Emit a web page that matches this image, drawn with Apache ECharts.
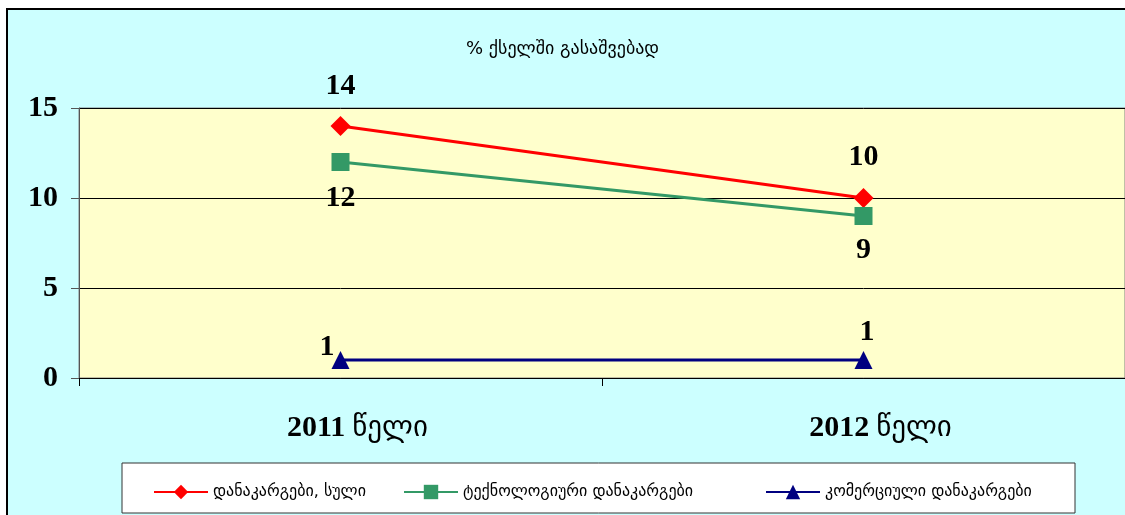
<!DOCTYPE html>
<html>
<head>
<meta charset="utf-8">
<script src="https://cdn.jsdelivr.net/npm/echarts@6/dist/echarts.min.js"></script>
<style>
  html, body { margin: 0; padding: 0; background: #ffffff; }
  #chart { width: 1125px; height: 515px; }
</style>
</head>
<body>
<div id="chart"></div>
<script>
  var titleText = '% ქსელში გასაშვებად';
  var years = ['2011', '2012'];
  var yearWord = 'წელი';
  var seriesNames = ['დანაკარგები, სული', 'ტექნოლოგიური დანაკარგები', 'კომერციული დანაკარგები'];
  var totalLoss = [14, 10];
  var techLoss = [12, 9];
  var commLoss = [1, 1];

  var serif = "'Liberation Serif', 'DejaVu Sans', serif";
  var geo = "'DejaVu Sans', 'Liberation Serif', sans-serif";

  var labelFont = {
    show: true, color: '#000', fontFamily: serif, fontWeight: 'bold', fontSize: 30
  };

  // label placement per point (index -> position)
  function makeData(values, positions) {
    return values.map(function (v, i) {
      return { value: v, label: Object.assign({}, labelFont, positions[i]) };
    });
  }

  var chart = echarts.init(document.getElementById('chart'));
  var option = {
    backgroundColor: '#ffffff',
    animation: false,
    graphic: [
      {
        type: 'rect', z: -10,
        shape: { x: 7, y: 9, width: 1130, height: 520 },
        style: { fill: '#CCFFFF', stroke: '#000', lineWidth: 2 }
      },
      {
        type: 'rect', z: 1,
        shape: { x: 122, y: 463, width: 953, height: 50 },
        style: { fill: '#ffffff', stroke: '#333', lineWidth: 1 }
      }
    ],
    title: {
      text: titleText,
      left: 'center',
      top: 35,
      textStyle: { fontFamily: geo, fontWeight: 'normal', fontSize: 18, color: '#000' }
    },
    grid: {
      left: 79, right: 0, top: 108, height: 270,
      show: true, backgroundColor: '#FFFFCC', borderColor: '#808080', borderWidth: 1
    },
    legend: [0, 1, 2].map(function (i) {
      return {
        data: [seriesNames[i]],
        left: [148, 398, 760][i],
        top: 479,
        z: 5,
        itemWidth: 54, itemHeight: 18,
        itemGap: 4,
        textStyle: { fontFamily: geo, fontSize: 16, color: '#000' }
      };
    }),
    xAxis: {
      type: 'category',
      data: years,
      boundaryGap: true,
      axisLine: { lineStyle: { color: '#000', width: 1 } },
      axisTick: { show: true, length: 8, lineStyle: { color: '#000' } },
      axisLabel: {
        margin: 35,
        padding: [0, 0, 0, 34],
        formatter: function (v) { return '{b|' + v + '}{g|' + yearWord + '}'; },
        rich: {
          b: { fontFamily: serif, fontWeight: 'bold', fontSize: 30, color: '#000' },
          g: { fontFamily: geo, fontWeight: 'normal', fontSize: 29, color: '#000', padding: [0, 0, 0, 7] }
        }
      }
    },
    yAxis: {
      type: 'value',
      min: 0, max: 15, interval: 5,
      axisLine: { show: true, lineStyle: { color: '#555', width: 1 } },
      axisTick: { show: true, length: 8, lineStyle: { color: '#555' } },
      splitLine: { lineStyle: { color: '#000', width: 1 } },
      axisLabel: {
        margin: 21, color: '#000',
        fontFamily: serif, fontWeight: 'bold', fontSize: 30
      }
    },
    series: [
      {
        name: seriesNames[0], type: 'line',
        data: makeData(totalLoss, [
          { position: 'top', distance: 15 },
          { position: 'top', distance: 16 }
        ]),
        symbol: 'diamond', symbolSize: 20,
        lineStyle: { color: '#FF0000', width: 3 },
        itemStyle: { color: '#FF0000' }
      },
      {
        name: seriesNames[1], type: 'line',
        data: makeData(techLoss, [
          { position: 'bottom', distance: 12 },
          { position: 'bottom', distance: 10 }
        ]),
        symbol: 'rect', symbolSize: 18,
        lineStyle: { color: '#339966', width: 3 },
        itemStyle: { color: '#339966' }
      },
      {
        name: seriesNames[2], type: 'line',
        data: makeData(commLoss, [
          { position: [-12, -19] },
          { position: [5, -34] }
        ]),
        symbol: 'triangle', symbolSize: 18,
        lineStyle: { color: '#000080', width: 3 },
        itemStyle: { color: '#000080' }
      }
    ]
  };
  chart.setOption(option);
</script>
</body>
</html>
